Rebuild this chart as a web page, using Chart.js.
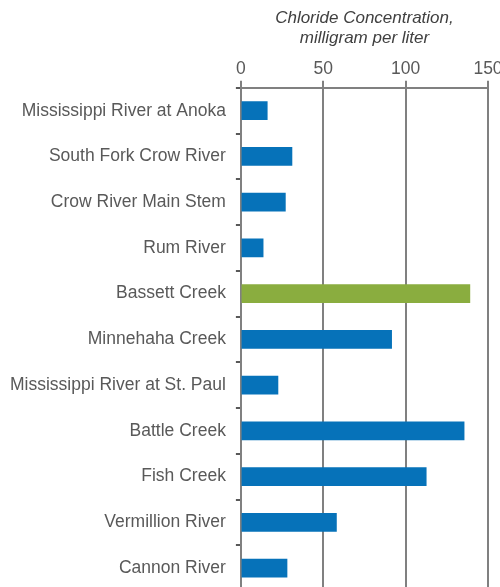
<!DOCTYPE html>
<html>
<head>
<meta charset="utf-8">
<script src="https://cdn.jsdelivr.net/npm/chart.js@4/dist/chart.umd.min.js"></script>
<style>
  html, body { margin: 0; padding: 0; background: #fff; overflow: hidden; }
  #wrap { position: relative; width: 500px; height: 591px; }
</style>
</head>
<body>
<div id="wrap"><canvas id="c"></canvas></div>
<script>
const categories = [
  'Mississippi River at Anoka',
  'South Fork Crow River',
  'Crow River Main Stem',
  'Rum River',
  'Bassett Creek',
  'Minnehaha Creek',
  'Mississippi River at St. Paul',
  'Battle Creek',
  'Fish Creek',
  'Vermillion River',
  'Cannon River'
];
const chlorideValues = [16, 31, 27, 13.5, 139, 91.5, 22.5, 135.5, 112.5, 58, 28];
const xTicks = [0, 50, 100, 150];
const axisTitle = ['Chloride Concentration,', 'milligram per liter'];
const highlighted = 'Bassett Creek';

const BLUE = '#0672b9';
const GREEN = '#8aad3f';
const GRID = '#808080';
const TEXT = '#595959';
const FONT = 'Liberation Sans, Arial, sans-serif';

new Chart(document.getElementById('c'), {
  type: 'bar',
  data: {
    labels: categories,
    datasets: [{
      data: chlorideValues,
      backgroundColor: categories.map(c => c === highlighted ? GREEN : BLUE),
      borderWidth: 0,
      barThickness: 18
    }]
  },
  options: {
    indexAxis: 'y',
    responsive: true,
    maintainAspectRatio: false,
    animation: false,
    layout: { padding: { left: 0, right: 12, top: 8, bottom: 0 } },
    plugins: { legend: { display: false }, tooltip: { enabled: false } },
    scales: {
      x: {
        position: 'top',
        min: 0,
        max: 150,
        afterBuildTicks: s => { s.ticks = xTicks.map(v => ({ value: v })); },
        afterFit: s => { s.paddingRight = 0; s.paddingLeft = 0; },
        ticks: {
          color: TEXT,
          font: { family: FONT, size: 17.5 },
          padding: 1,
          maxRotation: 0
        },
        grid: { color: GRID, lineWidth: 2, tickLength: 7, drawOnChartArea: true },
        border: { color: GRID, width: 2 },
        title: {
          display: true,
          text: axisTitle,
          color: '#404040',
          font: { family: FONT, size: 17, style: 'italic', lineHeight: 1.2 },
          padding: { top: 0, bottom: 9 }
        }
      },
      y: {
        offset: true,
        afterFit: s => { s.paddingTop = 0; s.paddingBottom = 0; },
        ticks: {
          color: TEXT,
          font: { family: FONT, size: 17.5 },
          padding: 10
        },
        grid: { offset: true, drawOnChartArea: false, color: '#595959', lineWidth: 2, tickLength: 5 },
        border: { color: GRID, width: 2 }
      }
    }
  }
});
</script>
</body>
</html>
